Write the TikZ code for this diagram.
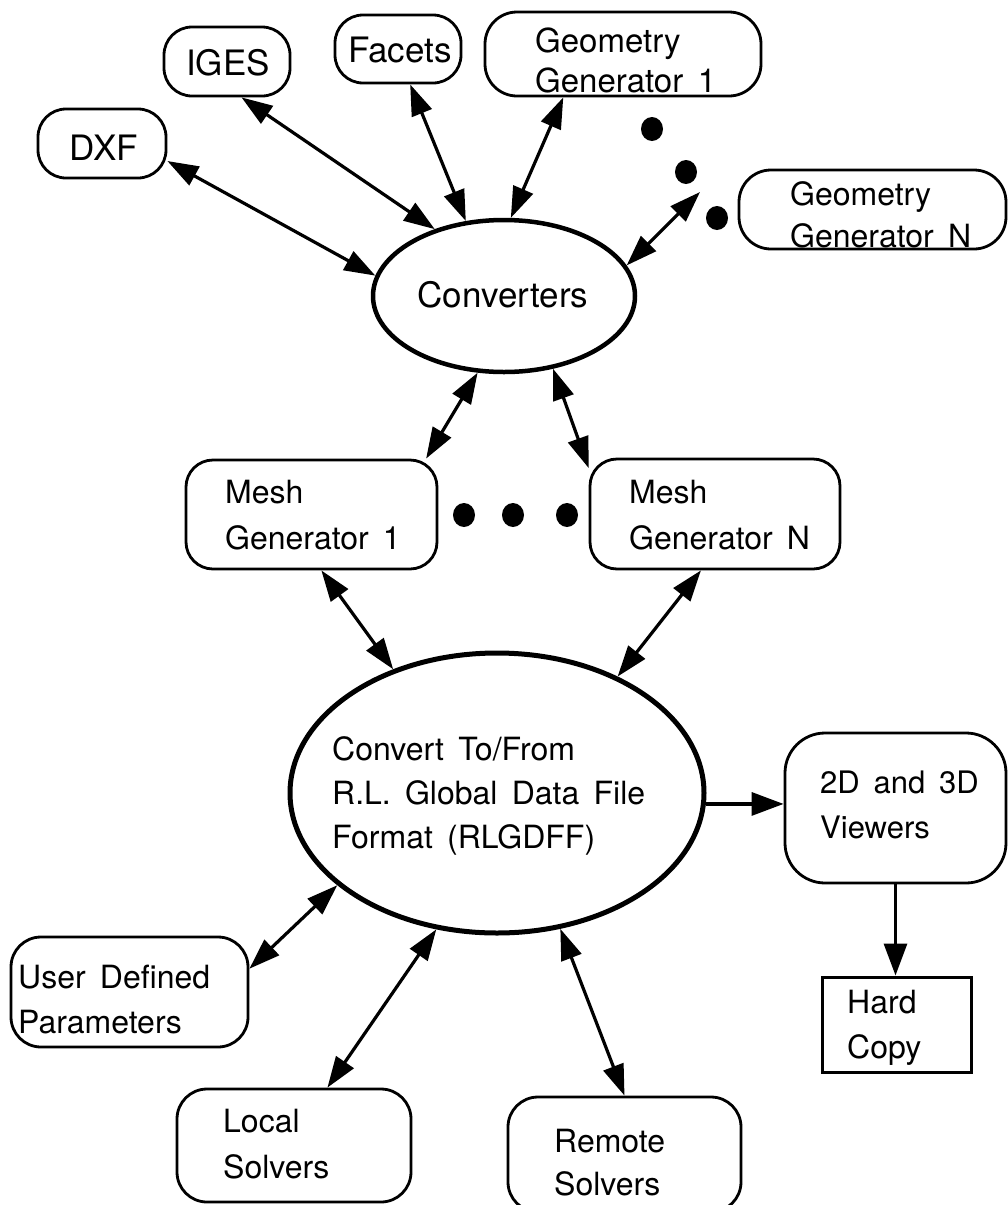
\documentclass[tikz,border=0pt]{standalone}
\usepackage{fontspec}
\setmainfont{TeX Gyre Heros}[WordSpace=1.6]
\usetikzlibrary{arrows.meta,shapes.geometric}
\begin{document}
\begin{tikzpicture}[x=1pt,y=-1pt,
  rbox/.style={draw,line width=2.8pt,rounded corners=#1,inner sep=0pt},
  rbox/.default=27pt,
  sbox/.style={draw,line width=3pt,inner sep=0pt},
  oval/.style={draw,ellipse,line width=5pt,inner sep=0pt},
  lbl/.style={anchor=base west,align=left,inner sep=0pt,font=\fontsize{32}{45}\selectfont},
  big/.style={anchor=base,inner sep=0pt,font=\fontsize{35}{42}\selectfont},
  conn/.style={line width=3.2pt,{Triangle[length=31pt,width=21pt]}-{Triangle[length=31pt,width=21pt]}},
  one/.style={line width=3.2pt,-{Triangle[length=32pt,width=23pt]}},
  blob/.style={fill=black}
]
\useasboundingbox (0,0) rectangle (1008,1205);
\fill[white] (0,0) rectangle (1008,1205);
\clip (0,0) rectangle (1008,1205);

% top row (multi-line labels are placed by the baseline of their last line)
\node[rbox=28pt, minimum width=128pt, minimum height=69pt] (dxf) at (102,143.5) {};
\node[big] (dxf-t) at (104,160) {DXF};
\node[rbox=28pt, minimum width=126pt, minimum height=69pt] (iges) at (227,61.5) {};
\node[big] (iges-t) at (228,75) {IGES};
\node[rbox=28pt, minimum width=126pt, minimum height=68pt] (fac) at (398,49) {};
\node[big] (fac-t) at (400,62) {Facets};
\node[rbox=32pt, minimum width=276pt, minimum height=84pt] (gg1) at (623,54) {};
\node[lbl,font=\fontsize{33}{40}\selectfont] (gg1-t) at (535,92) {Geometry\\Generator 1};
\node[rbox=32pt, minimum width=267pt, minimum height=79pt] (ggn) at (872.5,209.5) {};
\node[lbl,font=\fontsize{32}{42}\selectfont] (ggn-t) at (790,247) {Geometry\\Generator N};

% dots
\fill[blob] (652,129) ellipse [x radius=11pt, y radius=12pt];
\fill[blob] (686,172) ellipse [x radius=11pt, y radius=12pt];
\fill[blob] (717,218) ellipse [x radius=11pt, y radius=12pt];

% converters
\node[oval, line width=4.5pt, minimum width=262pt, minimum height=152pt] (conv) at (504,296) {};
\node[big] (conv-t) at (503,307) {Converters};

% mesh generators
\node[rbox, minimum width=251pt, minimum height=109pt] (mg1) at (311.5,514.5) {};
\node[lbl,font=\fontsize{32}{46}\selectfont] (mg1-t) at (225,549) {Mesh\\Generator 1};
\node[rbox, minimum width=250pt, minimum height=110pt] (mgn) at (715,514) {};
\node[lbl,font=\fontsize{32}{46}\selectfont] (mgn-t) at (629,549) {Mesh\\Generator N};
\fill[blob] (464,515) ellipse [x radius=11pt, y radius=12pt];
\fill[blob] (513,515) ellipse [x radius=11pt, y radius=12pt];
\fill[blob] (567,515) ellipse [x radius=11pt, y radius=12pt];

% central ellipse
\node[oval, minimum width=414pt, minimum height=280pt] (rlg) at (497,793) {};
\node[lbl,font=\fontsize{32}{44}\selectfont] (rlg-t) at (332,848) {Convert To/From\\R.L. Global Data File\\Format (RLGDFF)};

% viewers and hard copy
\node[rbox=40pt, minimum width=221pt, minimum height=150pt] (view) at (895.5,808) {};
\node[lbl,font=\fontsize{31}{45}\selectfont] (view-t) at (820,838) {2D and 3D\\Viewers};
\node[sbox, minimum width=149pt, minimum height=95pt] (hard) at (896.5,1024.5) {};
\node[lbl] (hard-t) at (847,1058) {Hard\\Copy};

% bottom boxes
\node[rbox=30pt, minimum width=237pt, minimum height=110pt] (udp) at (129.5,992) {};
\node[lbl] (udp-t) at (18,1033) {User Defined\\Parameters};
\node[rbox=30pt, minimum width=234pt, minimum height=113pt] (loc) at (294,1145.5) {};
\node[lbl,font=\fontsize{32}{46}\selectfont] (loc-t) at (223,1178) {Local\\Solvers};
\node[rbox=30pt, minimum width=233pt, minimum height=115pt] (rem) at (624.5,1154.5) {};
\node[lbl,font=\fontsize{32}{43}\selectfont] (rem-t) at (554,1195) {Remote\\Solvers};

% connectors
\coordinate (ggnend) at (700,192);
\draw[conn] (dxf.-15) -- (conv.171.5);
\draw[conn] (iges.-68.8) -- (conv.136.3);
\draw[conn] (fac.-71.6) -- (conv.117.2);
\draw[conn] (gg1.-144.6) -- (conv.85.4);
\draw[conn] (ggnend) -- (conv.14.7);
\draw[conn] (conv.251.1) -- (mg1.26.2);
\draw[conn] (conv.304.1) -- (mgn.160.5);
\draw[conn] (mg1.-80.5) -- (rlg.130.4);
\draw[conn] (mgn.-104.9) -- (rlg.44.5);
\draw[one] (rlg.-3.85) -- (rlg.-3.85 -| view.west);
\draw[one] (view.south) -- (view.south |- hard.north);
\draw[conn] (rlg.210.6) -- (udp.11.4);
\draw[conn] (rlg.246.7) -- (loc.60.1);
\draw[conn] (rlg.295.4) -- (rem.north);
\end{tikzpicture}
\end{document}
